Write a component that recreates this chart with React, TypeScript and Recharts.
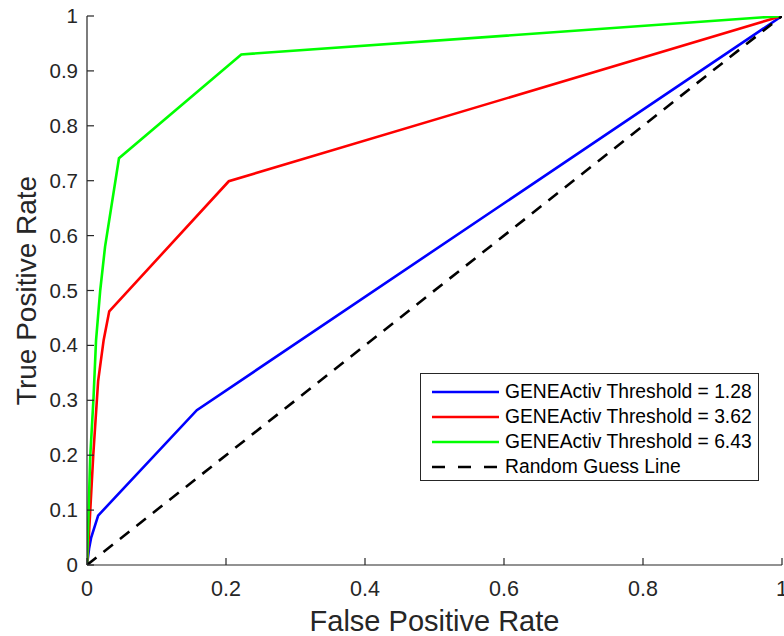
import { LineChart, Line, XAxis, YAxis, Legend } from 'recharts'

const seriesNames = [
  'GENEActiv Threshold = 1.28',
  'GENEActiv Threshold = 3.62',
  'GENEActiv Threshold = 6.43',
  'Random Guess Line',
]

const blueFpr = [0, 0.003, 0.006, 0.016, 0.158, 1]
const blueTpr = [0, 0.03, 0.05, 0.09, 0.282, 1]

const redFpr = [0, 0.003, 0.009, 0.016, 0.024, 0.032, 0.204, 1]
const redTpr = [0, 0.06, 0.2, 0.335, 0.41, 0.462, 0.699, 1]

const greenFpr = [0, 0.0046, 0.0094, 0.013, 0.019, 0.026, 0.046, 0.222, 1]
const greenTpr = [0, 0.196, 0.305, 0.409, 0.5, 0.58, 0.741, 0.93, 1]

const guessFpr = [0, 1]
const guessTpr = [0, 1]

const xTicks = [0, 0.2, 0.4, 0.6, 0.8, 1]
const yTicks = [0, 0.1, 0.2, 0.3, 0.4, 0.5, 0.6, 0.7, 0.8, 0.9, 1]

const toPoints = (xs: number[], ys: number[]) => xs.map((x, i) => ({ x, y: ys[i] }))

const blueData = toPoints(blueFpr, blueTpr)
const redData = toPoints(redFpr, redTpr)
const greenData = toPoints(greenFpr, greenTpr)
const guessData = toPoints(guessFpr, guessTpr)

const ink = '#262626'
const font = '"Liberation Sans", Arial, Helvetica, sans-serif'
const colors = ['#0000ff', '#ff0000', '#00ff00', '#000000']

const XTick = (props: any) => {
  const { x, y, payload } = props
  return (
    <g>
      <line x1={x} x2={x} y1={y} y2={y - 7} stroke={ink} strokeWidth={1.2} />
      <text x={x} y={y + 31} textAnchor="middle" fontSize={21.5} fill={ink} fontFamily={font}>
        {String(payload.value)}
      </text>
    </g>
  )
}

const YTick = (props: any) => {
  const { x, y, payload } = props
  return (
    <g>
      <line x1={x} x2={x + 7} y1={y} y2={y} stroke={ink} strokeWidth={1.2} />
      <text x={x - 9} y={y + 7} textAnchor="end" fontSize={20.5} fill={ink} fontFamily={font}>
        {String(payload.value)}
      </text>
    </g>
  )
}

const LegendBox = () => (
  <div
    style={{
      border: `1px solid ${ink}`,
      background: '#fff',
      boxSizing: 'border-box',
      width: 339,
      height: 108,
      padding: '5px 0 0 0',
      fontFamily: font,
      fontSize: 19.3,
      color: '#000',
    }}
  >
    {seriesNames.map((name, i) => (
      <div key={name} style={{ display: 'flex', alignItems: 'center', height: 25 }}>
        <svg width={84} height={10} style={{ flex: 'none' }}>
          <line
            x1={11}
            x2={78}
            y1={5}
            y2={5}
            stroke={colors[i]}
            strokeWidth={2.6}
            strokeDasharray={i === 3 ? '13 13' : undefined}
          />
        </svg>
        <span style={{ lineHeight: '25px' }}>{name}</span>
      </div>
    ))}
  </div>
)

export default function App() {
  return (
    <div style={{ position: 'absolute', left: 0, top: 0, background: '#fff' }}>
      <LineChart
        width={784}
        height={636}
        margin={{ top: 16, right: 2, left: 0, bottom: 0 }}
        style={{ fontFamily: font }}
      >
        <XAxis
          dataKey="x"
          type="number"
          domain={[0, 1]}
          ticks={xTicks}
          interval={0}
          tickSize={0}
          tickMargin={0}
          tick={<XTick />}
          height={71}
          stroke={ink}
          strokeWidth={1.2}
          allowDataOverflow
          label={{ value: 'False Positive Rate', position: 'insideBottom', offset: 5, fontSize: 29, fill: ink }}
        />
        <YAxis
          dataKey="y"
          type="number"
          domain={[0, 1]}
          ticks={yTicks}
          interval={0}
          tickSize={0}
          tickMargin={0}
          tick={<YTick />}
          width={87}
          stroke={ink}
          strokeWidth={1.2}
          allowDataOverflow
          label={{
            value: 'True Positive Rate',
            angle: -90,
            position: 'insideLeft',
            content: (p: any) => {
              const vb = p.viewBox
              const cx = 26
              const cy = vb.y + vb.height / 2
              return (
                <text
                  x={cx}
                  y={cy}
                  transform={`rotate(-90 ${cx} ${cy})`}
                  textAnchor="middle"
                  dominantBaseline="central"
                  fontSize={28}
                  fill={ink}
                  fontFamily={font}
                >
                  True Positive Rate
                </text>
              )
            },
          }}
        />
        <Legend
          layout="horizontal"
          verticalAlign="middle"
          align="center"
          content={<LegendBox />}
          wrapperStyle={{ left: 420, top: 373, width: 339, height: 108 }}
        />
        <Line data={blueData} dataKey="y" name={seriesNames[0]} stroke={colors[0]} strokeWidth={2.6} dot={false} isAnimationActive={false} />
        <Line data={redData} dataKey="y" name={seriesNames[1]} stroke={colors[1]} strokeWidth={2.6} dot={false} isAnimationActive={false} />
        <Line data={greenData} dataKey="y" name={seriesNames[2]} stroke={colors[2]} strokeWidth={2.6} dot={false} isAnimationActive={false} />
        <Line
          data={guessData}
          dataKey="y"
          name={seriesNames[3]}
          stroke={colors[3]}
          strokeWidth={2.6}
          strokeDasharray="12 9"
          dot={false}
          isAnimationActive={false}
        />
      </LineChart>
    </div>
  )
}
